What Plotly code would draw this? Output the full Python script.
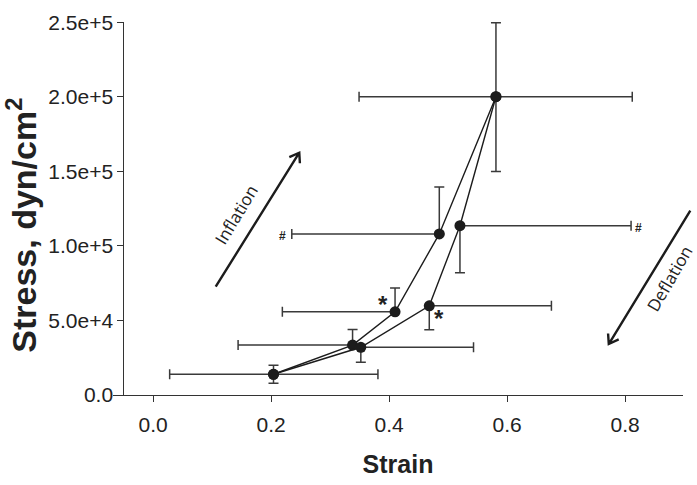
import math
import plotly.graph_objects as go

# ---- data ----
inflation_strain = [0.204, 0.338, 0.410, 0.485, 0.581]
inflation_stress = [13900, 33500, 55800, 108000, 200000]
inflation_strain_err_plus = [0.177, 0, 0, 0, 0.231]
inflation_strain_err_minus = [0.176, 0.194, 0.191, 0.250, 0.232]
inflation_stress_err_plus = [6000, 10500, 16000, 31500, 49600]
inflation_stress_err_minus = [6000, 0, 0, 0, 50200]

deflation_strain = [0.581, 0.520, 0.468, 0.352, 0.204]
deflation_stress = [200000, 113500, 59800, 32000, 13900]
deflation_strain_err_plus = [0, 0.290, 0.207, 0.191, 0]
deflation_strain_err_minus = [0, 0, 0, 0, 0]
deflation_stress_err_plus = [0, 0, 0, 0, 0]
deflation_stress_err_minus = [0, 31600, 16000, 10000, 0]

x_tick_values = [0.0, 0.2, 0.4, 0.6, 0.8]
x_tick_labels = ["0.0", "0.2", "0.4", "0.6", "0.8"]
y_tick_values = [0, 50000, 100000, 150000, 200000, 250000]
y_tick_labels = ["0.0", "5.0e+4", "1.0e+5", "1.5e+5", "2.0e+5", "2.5e+5"]

INK = "#1c1c1c"
BAR = "#3a3a3a"
AX = "#333333"

W, H = 697, 485
M_L, M_R, M_T, M_B = 113, 14, 11, 84
PW, PH = W - M_L - M_R, H - M_T - M_B

fig = go.Figure()


def add_series(x, y, exp, exm, eyp, eym, name):
    fig.add_trace(go.Scatter(
        x=x, y=y, mode="lines+markers", name=name,
        line=dict(color=INK, width=1.4),
        marker=dict(color=INK, size=11, line=dict(width=0)),
        error_x=dict(type="data", symmetric=False, array=exp, arrayminus=exm,
                     color=BAR, thickness=1.5, width=5),
        error_y=dict(type="data", symmetric=False, array=eyp, arrayminus=eym,
                     color=BAR, thickness=1.5, width=5),
    ))


add_series(inflation_strain, inflation_stress,
           inflation_strain_err_plus, inflation_strain_err_minus,
           inflation_stress_err_plus, inflation_stress_err_minus, "Inflation")
add_series(deflation_strain, deflation_stress,
           deflation_strain_err_plus, deflation_strain_err_minus,
           deflation_stress_err_plus, deflation_stress_err_minus, "Deflation")

FAM = "Liberation Sans, Arial, sans-serif"
tick_font = dict(family=FAM, size=21, color="#222")
title_font = dict(family=FAM, size=25, color="#222")

fig.update_layout(
    width=W, height=H,
    margin=dict(l=M_L, r=M_R, t=M_T, b=M_B),
    plot_bgcolor="white", paper_bgcolor="white",
    showlegend=False,
    xaxis=dict(
        range=[-0.068, 0.898],
        showline=True, linecolor=AX, linewidth=1.3,
        ticks="outside", ticklen=6, tickwidth=1.3, tickcolor=AX,
        tickvals=x_tick_values, ticktext=x_tick_labels,
        tickfont=tick_font, showgrid=False, zeroline=False,
        ticklabelstandoff=5, ticklabeloverflow="allow",
        title=dict(text="<b>Strain</b>", font=title_font, standoff=20),
    ),
    yaxis=dict(
        range=[0, 250100], anchor="free", position=0.0184,
        showline=True, linecolor=AX, linewidth=1.3,
        ticks="outside", ticklen=6, tickwidth=1.3, tickcolor=AX,
        tickvals=y_tick_values, ticktext=y_tick_labels,
        tickfont=tick_font, showgrid=False, zeroline=False,
        ticklabeloverflow="allow",
    ),
)

# y-axis title
fig.add_annotation(x=-0.16, y=0.456, xref="paper", yref="paper",
                   text="<b>Stress, dyn/cm<sup>2</sup></b>", textangle=-90,
                   showarrow=False, xanchor="center", yanchor="middle",
                   font=dict(family=FAM, size=34, color="#222"))


# direction arrows drawn as open-V path shapes (given in paper fractions)
def arrow_path(x0, y0, x1, y1, head_px=11, half_angle=34):
    # work in pixel space so the head is symmetric, then convert back
    px0, py0 = x0 * PW, y0 * PH
    px1, py1 = x1 * PW, y1 * PH
    ang = math.atan2(py1 - py0, px1 - px0)
    pts = []
    for s in (1, -1):
        a = ang + math.pi + s * math.radians(half_angle)
        pts.append(((px1 + head_px * math.cos(a)) / PW, (py1 + head_px * math.sin(a)) / PH))
    (ax_, ay_), (bx_, by_) = pts
    return (f"M {x0} {y0} L {x1} {y1} "
            f"M {ax_} {ay_} L {x1} {y1} L {bx_} {by_}")


for (x0, y0, x1, y1) in [(0.1802, 0.2905, 0.3268, 0.6495),
                         (1.0128, 0.4941, 0.8698, 0.1367)]:
    fig.add_shape(type="path", xref="paper", yref="paper",
                  path=arrow_path(x0, y0, x1, y1),
                  line=dict(color=INK, width=2.4))

note_font = dict(family="Open Sans, Noto Sans, sans-serif", size=17, color="#222")
mark_font = dict(family=FAM, color="#222")

fig.add_annotation(x=0.2158, y=0.4846, xref="paper", yref="paper", text="Inflation",
                   showarrow=False, textangle=-59, xanchor="center", yanchor="middle",
                   font=note_font)
fig.add_annotation(x=0.976, y=0.3128, xref="paper", yref="paper", text="Deflation",
                   showarrow=False, textangle=-60, xanchor="center", yanchor="middle",
                   font=note_font)

# significance marks
fig.add_annotation(x=0.389, y=60800, xref="x", yref="y", text="<b>*</b>",
                   showarrow=False, font=dict(size=24, **mark_font))
fig.add_annotation(x=0.485, y=51000, xref="x", yref="y", text="<b>*</b>",
                   showarrow=False, font=dict(size=24, **mark_font))
fig.add_annotation(x=0.2198, y=106800, xref="x", yref="y", text="<b>#</b>",
                   showarrow=False, font=dict(size=12, **mark_font))
fig.add_annotation(x=0.8226, y=112200, xref="x", yref="y", text="<b>#</b>",
                   showarrow=False, font=dict(size=12, **mark_font))

# remove the browser's default 8px page margin so the figure sits at (0, 0)
fig.write_html("out.html", config={"displayModeBar": False},
               post_script="document.body.style.margin='0';")
